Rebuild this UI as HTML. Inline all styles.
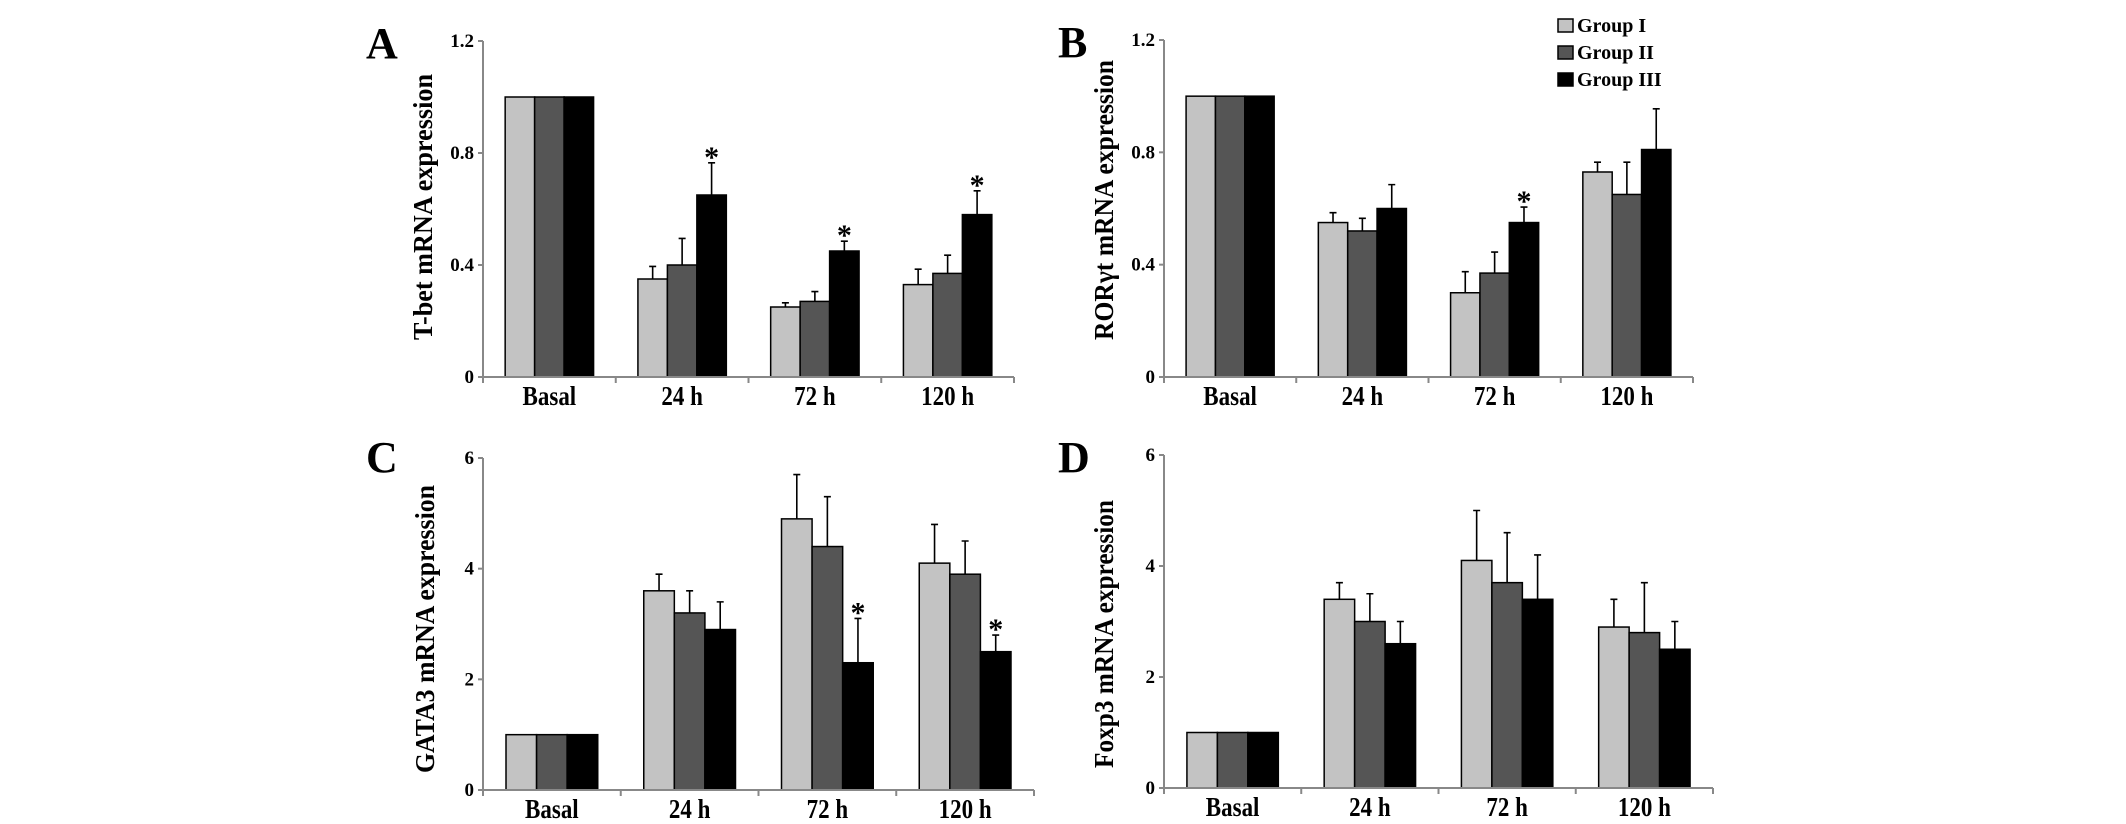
<!DOCTYPE html>
<html><head><meta charset="utf-8"><style>
html,body{margin:0;padding:0;background:#fff;}
svg{display:block;}
text{font-family:"Liberation Serif",serif;font-weight:bold;fill:#000;}
</style></head>
<body>
<svg id="fig" width="2126" height="824" viewBox="0 0 2126 824" xmlns="http://www.w3.org/2000/svg"></svg>
<script>
const categories = ["Basal","24 h","72 h","120 h"];
const groupNames = ["Group I","Group II","Group III"];
const groupColors = ["#c3c3c3","#555555","#000000"];

const aG1 = [1, 0.35, 0.25, 0.33];
const aG2 = [1, 0.40, 0.27, 0.37];
const aG3 = [1, 0.65, 0.45, 0.58];
const aE1 = [0, 0.045, 0.015, 0.055];
const aE2 = [0, 0.095, 0.035, 0.065];
const aE3 = [0, 0.115, 0.035, 0.085];
const aStars = [false, true, true, true];
const aTicks = [0, 0.4, 0.8, 1.2];
const aTickLabels = ["0","0.4","0.8","1.2"];

const bG1 = [1, 0.55, 0.30, 0.73];
const bG2 = [1, 0.52, 0.37, 0.65];
const bG3 = [1, 0.60, 0.55, 0.81];
const bE1 = [0, 0.035, 0.075, 0.035];
const bE2 = [0, 0.045, 0.075, 0.115];
const bE3 = [0, 0.085, 0.055, 0.145];
const bStars = [false, false, true, false];
const bTicks = [0, 0.4, 0.8, 1.2];
const bTickLabels = ["0","0.4","0.8","1.2"];

const cG1 = [1, 3.6, 4.9, 4.1];
const cG2 = [1, 3.2, 4.4, 3.9];
const cG3 = [1, 2.9, 2.3, 2.5];
const cE1 = [0, 0.3, 0.8, 0.7];
const cE2 = [0, 0.4, 0.9, 0.6];
const cE3 = [0, 0.5, 0.8, 0.3];
const cStars = [false, false, true, true];
const cTicks = [0, 2, 4, 6];
const cTickLabels = ["0","2","4","6"];

const dG1 = [1, 3.4, 4.1, 2.9];
const dG2 = [1, 3.0, 3.7, 2.8];
const dG3 = [1, 2.6, 3.4, 2.5];
const dE1 = [0, 0.3, 0.9, 0.5];
const dE2 = [0, 0.5, 0.9, 0.9];
const dE3 = [0, 0.4, 0.8, 0.5];
const dStars = [false, false, false, false];
const dTicks = [0, 2, 4, 6];
const dTickLabels = ["0","2","4","6"];

const NS = "http://www.w3.org/2000/svg";
const svg = document.getElementById("fig");
function mk(tag, attrs, parent){
  const e = document.createElementNS(NS, tag);
  for (const k in attrs) e.setAttribute(k, attrs[k]);
  (parent||svg).appendChild(e);
  return e;
}

function panel(p){
  const g = mk("g", {});
  
  
  const x0 = p.x0, x1 = p.x1, yTop = p.yTop, yZero = p.yZero, yMax = p.yMax;
  const yS = v => yZero - (v / yMax) * (yZero - yTop);
  const step = (x1 - x0) / categories.length;
  const xC = i => x0 + step * (i + 0.5);
  const bw = step * 0.222;

  const L = mk("text", {x: p.lx, y: p.ly, "font-size": 44}, g);
  L.textContent = p.id;
  
  

  const t = mk("text", {x: 0, y: 0, "font-size": 27, "text-anchor": "middle",
    transform: `translate(${p.tx},${p.ty}) rotate(-90)`, textLength: p.tlen, lengthAdjust: "spacingAndGlyphs"}, g);
  t.textContent = p.title;
  
  

  const series = [p.g1, p.g2, p.g3];
  const errs = [p.e1, p.e2, p.e3];
  for (let i = 0; i < categories.length; i++) {
    for (let s = 0; s < 3; s++) {
      const bx = xC(i) - 1.5 * bw + s * bw;
      const v = series[s][i];
      const r = mk("rect", {x: bx, y: yS(v), width: bw, height: yZero - yS(v),
        fill: groupColors[s], stroke: "#000", "stroke-width": 1.5}, g);
      
      
      const e = errs[s][i];
      if (e > 0) {
        const cx = bx + bw / 2;
        const et = yS(v + e);
        const el = mk("path", {d: `M${cx},${yS(v)} L${cx},${et} M${cx-3.5},${et} L${cx+3.5},${et}`,
          stroke: "#000", "stroke-width": 1.6, fill: "none"}, g);
        
        
      }
    }
    if (p.stars[i]) {
      const cx = xC(i) + bw;
      const st = mk("text", {x: cx, y: yS(p.g3[i] + p.e3[i]) + 4, "font-size": 30, "text-anchor": "middle"}, g);
      st.textContent = "*";
      
      
    }
  }

  const ax = mk("path", {d: `M${x0},${yTop} L${x0},${yZero} L${x1},${yZero}`, stroke: "#888", "stroke-width": 2, fill: "none"}, g);
  
  
  for (let k = 0; k < p.ticks.length; k++) {
    const ty = yS(p.ticks[k]);
    mk("line", {x1: x0 - 5, y1: ty, x2: x0, y2: ty, stroke: "#888", "stroke-width": 2}, g);
    const tl = mk("text", {x: x0 - 9, y: ty + 6, "font-size": 19, "text-anchor": "end"}, g);
    tl.textContent = p.tickLabels[k];
    
    
  }
  for (let i = 0; i <= categories.length; i++) {
    const tx = x0 + step * i;
    mk("line", {x1: tx, y1: yZero, x2: tx, y2: yZero + 6, stroke: "#888", "stroke-width": 2}, g);
  }
  for (let i = 0; i < categories.length; i++) {
    const cl = mk("text", {x: 0, y: 0, "font-size": 25, "text-anchor": "middle",
      transform: `translate(${xC(i)},${yZero + 28}) scale(0.92,1.08)`}, g);
    cl.textContent = categories[i];
    
    
  }
}

panel({id:"A", x0:483, x1:1014, yTop:41, yZero:377, yMax:1.2, lx:366, ly:58,
  tx:432, ty:207, tlen:266, title:"T-bet mRNA expression",
  g1:aG1, g2:aG2, g3:aG3, e1:aE1, e2:aE2, e3:aE3, stars:aStars, ticks:aTicks, tickLabels:aTickLabels});
panel({id:"B", x0:1164, x1:1693, yTop:40, yZero:377, yMax:1.2, lx:1058, ly:57,
  tx:1113, ty:200, tlen:280, title:"RORγt mRNA expression",
  g1:bG1, g2:bG2, g3:bG3, e1:bE1, e2:bE2, e3:bE3, stars:bStars, ticks:bTicks, tickLabels:bTickLabels});
panel({id:"C", x0:483, x1:1034, yTop:458, yZero:790, yMax:6, lx:366, ly:472,
  tx:434, ty:629, tlen:288, title:"GATA3 mRNA expression",
  g1:cG1, g2:cG2, g3:cG3, e1:cE1, e2:cE2, e3:cE3, stars:cStars, ticks:cTicks, tickLabels:cTickLabels});
panel({id:"D", x0:1164, x1:1713, yTop:455, yZero:788, yMax:6, lx:1058, ly:472,
  tx:1113, ty:634, tlen:268, title:"Foxp3 mRNA expression",
  g1:dG1, g2:dG2, g3:dG3, e1:dE1, e2:dE2, e3:dE3, stars:dStars, ticks:dTicks, tickLabels:dTickLabels});

const lg = mk("g", {});


const legendY = [25, 52, 79];
for (let s = 0; s < 3; s++) {
  const r = mk("rect", {x: 1558, y: legendY[s] - 6, width: 15, height: 13, fill: groupColors[s], stroke: "#000", "stroke-width": 1.5}, lg);
  
  
  const t = mk("text", {x: 1577, y: legendY[s] + 7, "font-size": 20}, lg);
  t.textContent = groupNames[s];
  
  
}
</script>
</body></html>
